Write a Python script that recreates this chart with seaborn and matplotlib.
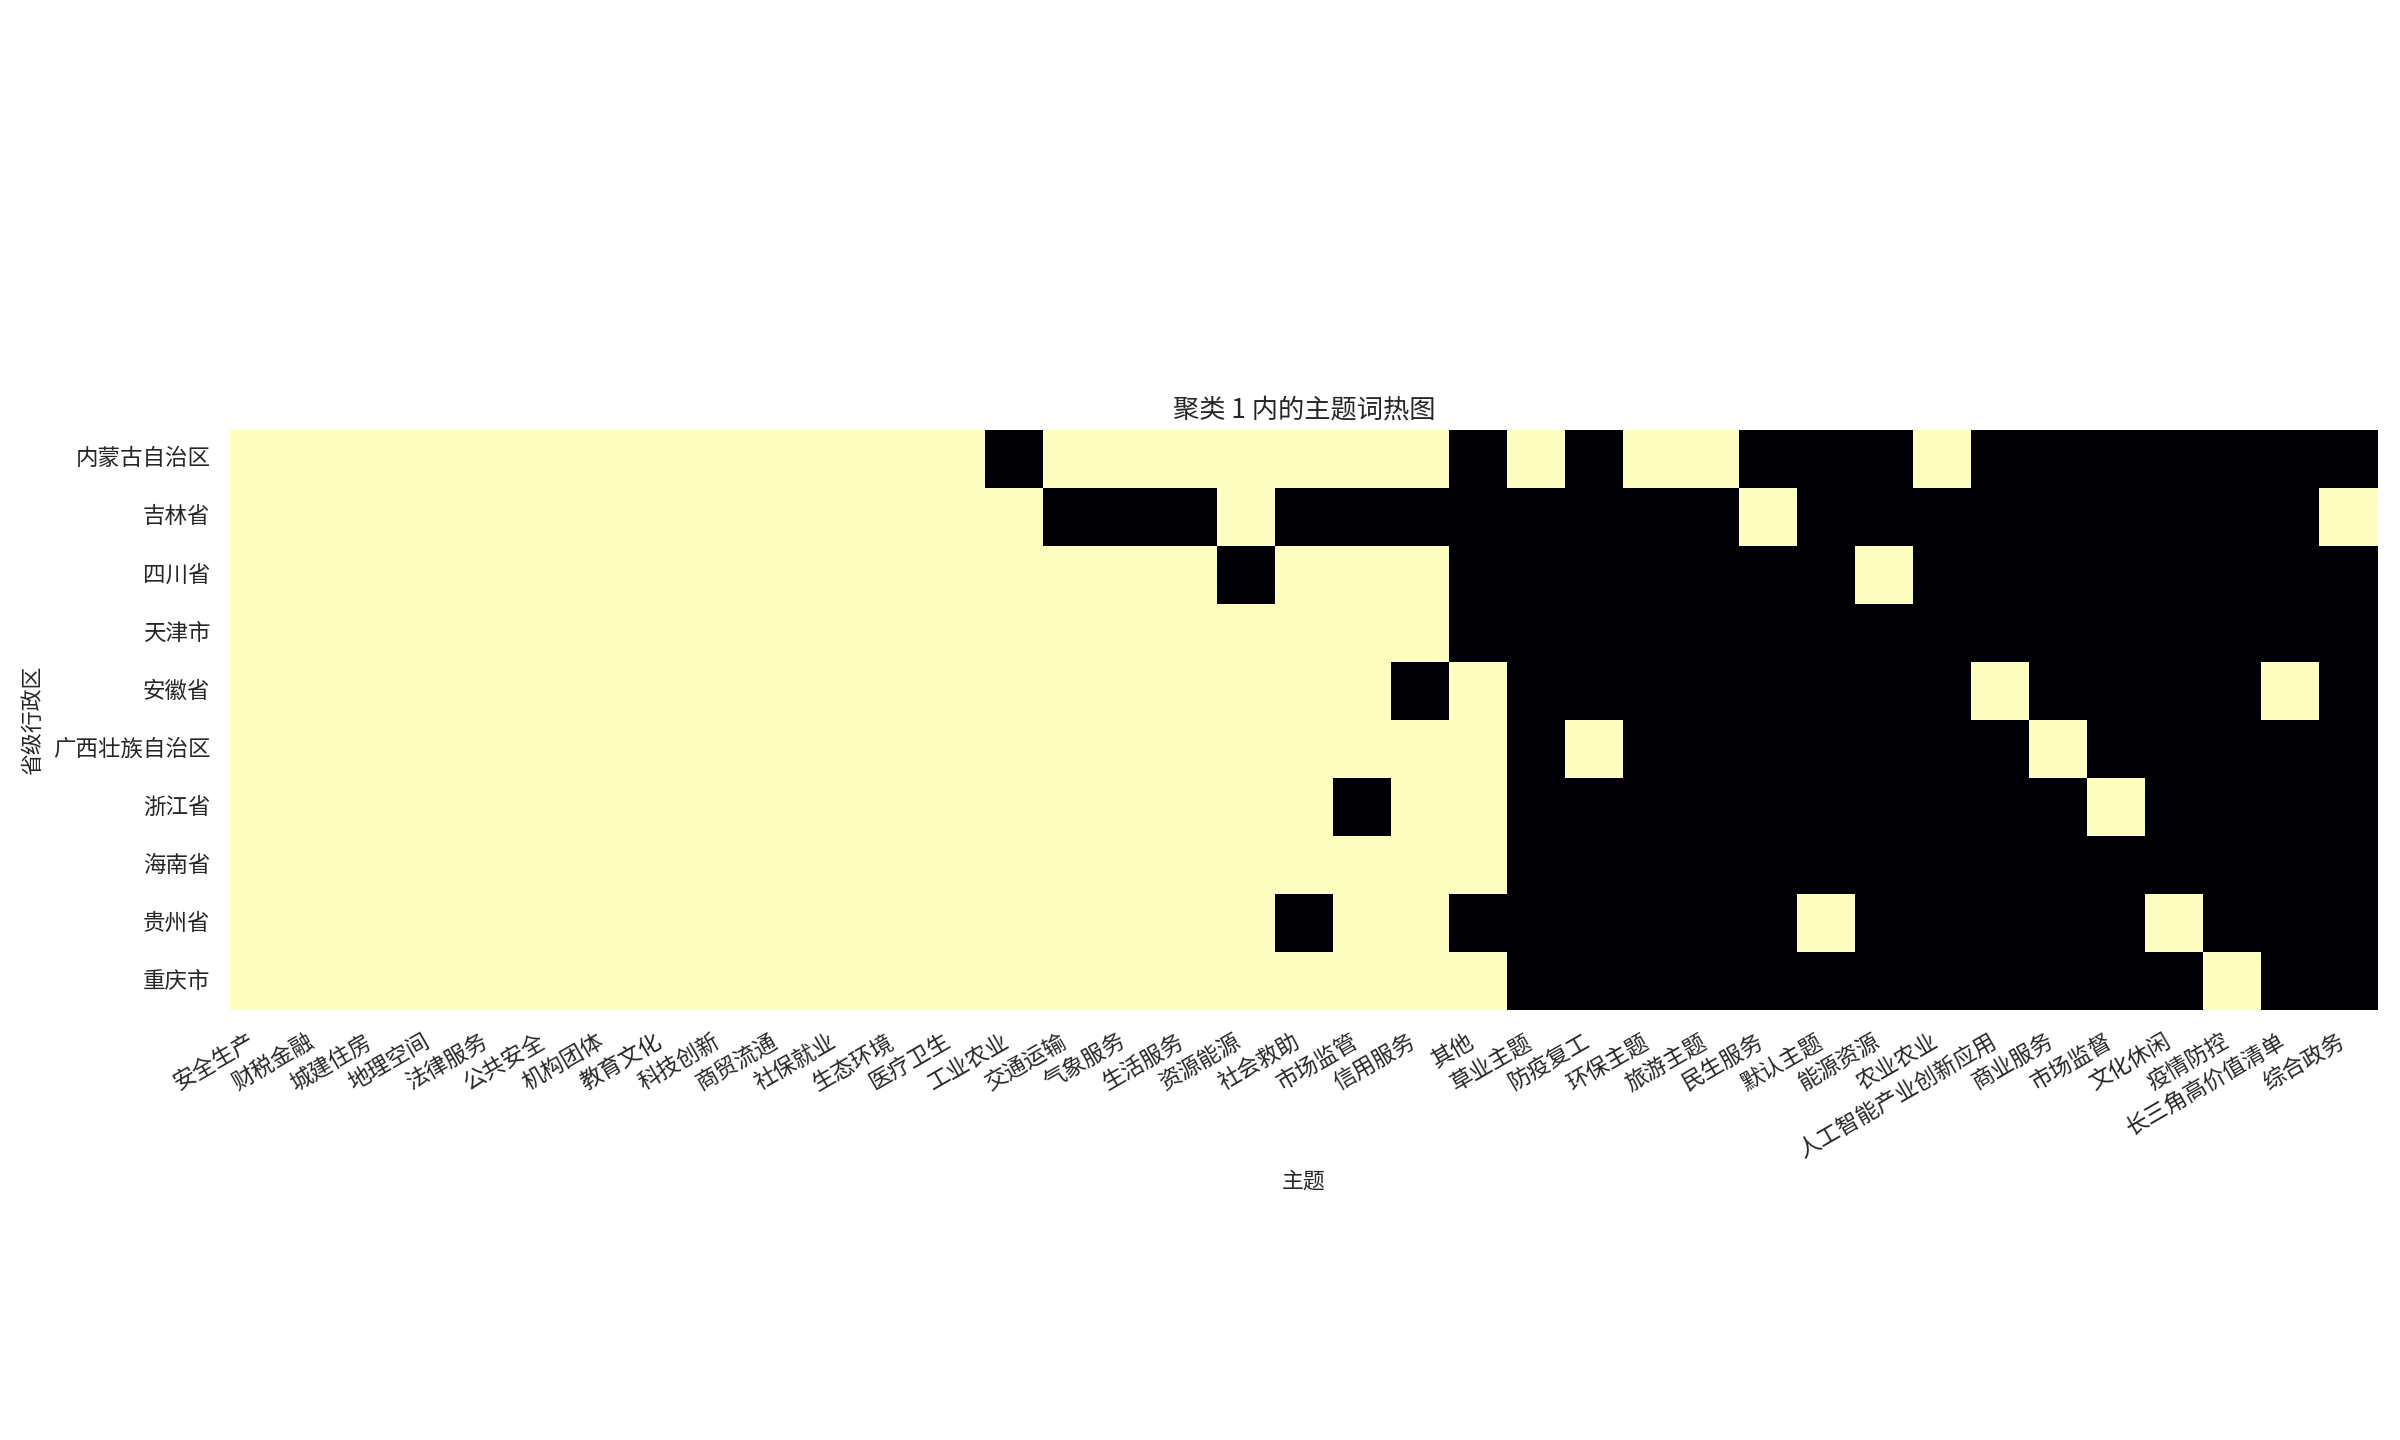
import matplotlib.pyplot as plt
import numpy as np
import pandas as pd
import seaborn as sns

# provinces in cluster 1
provinces = [
    "内蒙古自治区", "吉林省", "四川省", "天津市", "安徽省",
    "广西壮族自治区", "浙江省", "海南省", "贵州省", "重庆市",
]

# topic names (x axis)
topics = [
    "安全生产", "财税金融", "城建住房", "地理空间", "法律服务", "公共安全",
    "机构团体", "教育文化", "科技创新", "商贸流通", "社保就业", "生态环境",
    "医疗卫生", "工业农业", "交通运输", "气象服务", "生活服务", "资源能源",
    "社会救助", "市场监管", "信用服务", "其他", "草业主题", "防疫复工",
    "环保主题", "旅游主题", "民生服务", "默认主题", "能源资源", "农业农业",
    "人工智能产业创新应用", "商业服务", "市场监督", "文化休闲", "疫情防控",
    "长三角高价值清单", "综合政务",
]

# 1 = topic present, 0 = absent (one row per province)
neimenggu = [1,1,1,1,1,1,1,1,1,1,1,1,1,0,1,1,1,1,1,1,1,0,1,0,1,1,0,0,0,1,0,0,0,0,0,0,0]
jilin     = [1,1,1,1,1,1,1,1,1,1,1,1,1,1,0,0,0,1,0,0,0,0,0,0,0,0,1,0,0,0,0,0,0,0,0,0,1]
sichuan   = [1,1,1,1,1,1,1,1,1,1,1,1,1,1,1,1,1,0,1,1,1,0,0,0,0,0,0,0,1,0,0,0,0,0,0,0,0]
tianjin   = [1,1,1,1,1,1,1,1,1,1,1,1,1,1,1,1,1,1,1,1,1,0,0,0,0,0,0,0,0,0,0,0,0,0,0,0,0]
anhui     = [1,1,1,1,1,1,1,1,1,1,1,1,1,1,1,1,1,1,1,1,0,1,0,0,0,0,0,0,0,0,1,0,0,0,0,1,0]
guangxi   = [1,1,1,1,1,1,1,1,1,1,1,1,1,1,1,1,1,1,1,1,1,1,0,1,0,0,0,0,0,0,0,1,0,0,0,0,0]
zhejiang  = [1,1,1,1,1,1,1,1,1,1,1,1,1,1,1,1,1,1,1,0,1,1,0,0,0,0,0,0,0,0,0,0,1,0,0,0,0]
hainan    = [1,1,1,1,1,1,1,1,1,1,1,1,1,1,1,1,1,1,1,1,1,1,0,0,0,0,0,0,0,0,0,0,0,0,0,0,0]
guizhou   = [1,1,1,1,1,1,1,1,1,1,1,1,1,1,1,1,1,1,0,1,1,0,0,0,0,0,0,1,0,0,0,0,0,1,0,0,0]
chongqing = [1,1,1,1,1,1,1,1,1,1,1,1,1,1,1,1,1,1,1,1,1,1,0,0,0,0,0,0,0,0,0,0,0,0,1,0,0]

matrix = pd.DataFrame(
    [neimenggu, jilin, sichuan, tianjin, anhui,
     guangxi, zhejiang, hainan, guizhou, chongqing],
    index=provinces,
    columns=topics,
)

sns.set_theme(style="white")
# CJK font, set after set_theme
plt.rcParams["font.family"] = ["Noto Sans CJK SC", "DejaVu Sans"]
plt.rcParams["font.size"] = 10
plt.rcParams["axes.unicode_minus"] = False

fig, ax = plt.subplots(figsize=(16, 9.6), dpi=150)

sns.heatmap(
    matrix,
    cmap="magma",
    cbar=False,
    square=True,
    ax=ax,
)

ax.set_title("聚类 1 内的主题词热图", fontsize=12.6)
ax.set_xlabel("主题", fontsize=10.5)
ax.set_ylabel("省级行政区", fontsize=10.5)

# rotate topic labels
plt.xticks(rotation=30, ha="right", fontsize=10.8)
plt.yticks(rotation=0, fontsize=10.8)

# tight layout
plt.tight_layout()

plt.savefig("out.png", dpi=150)
